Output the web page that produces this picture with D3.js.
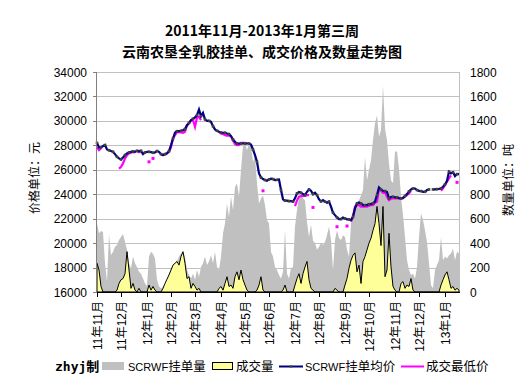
<!DOCTYPE html>
<html><head><meta charset="utf-8">
<script src="https://cdn.jsdelivr.net/npm/d3@7"></script>
<style>body{margin:0;background:#fff}svg{display:block}</style>
</head><body><svg id="c" width="532" height="390"></svg>
<script>
const titleLines = ["2011年11月-2013年1月第三周", "云南农垦全乳胶挂单、成交价格及数量走势图"];
const monthLabels = ["11年11月","11年12月","12年1月","12年2月","12年3月","12年4月","12年5月","12年6月","12年7月","12年8月","12年9月","12年10月","12年11月","12年12月","13年1月"];
const monthStartIndex = [0,12,25,37,49,62,74,86,99,111,124,136,149,161,174];
const priceTicks = [16000,18000,20000,22000,24000,26000,28000,30000,32000,34000];
const volumeTicks = [0,200,400,600,800,1000,1200,1400,1600,1800];
const seriesNames = ["SCRWF挂单量","成交量","SCRWF挂单均价","成交最低价"];

// SCRWF挂单量 (吨)
const orderVolume = [560,480,500,490,235,85,470,300,330,370,385,425,450,475,410,345,235,195,290,235,205,165,150,110,70,50,290,330,310,275,100,45,30,40,55,100,
150,180,205,235,250,290,315,330,290,180,140,110,150,100,180,125,205,235,290,220,250,300,235,330,205,180,290,480,560,725,615,780,670,860,890,780,
1000,1200,1230,1160,1215,1190,1065,1105,890,725,765,790,710,590,560,330,290,205,180,140,110,165,510,150,110,195,205,535,670,780,790,765,750,575,450,550,420,
400,345,370,400,385,410,465,535,425,180,425,505,440,425,465,450,345,290,560,645,685,725,750,790,835,1105,915,1000,1080,1245,1380,1445,1270,1325,1690,1340,1240,
1050,915,890,1150,1150,1010,780,630,450,260,180,140,150,110,205,450,645,590,505,410,235,55,30,180,220,260,450,260,290,275,300,315,355,260,330,315];

// 成交量 (吨)
const dealVolume = [235,180,45,0,0,0,0,0,0,0,15,70,100,110,150,330,180,30,70,15,0,30,0,0,0,0,57,15,45,15,0,0,0,30,70,105,
140,180,220,235,250,220,290,330,235,110,125,30,70,45,15,30,0,0,0,0,0,0,0,0,0,30,45,15,70,125,45,57,30,125,165,100,
180,100,57,15,0,0,0,0,15,57,125,15,0,0,0,0,0,0,0,0,0,15,57,0,0,0,0,57,110,150,70,150,205,250,100,30,15,
0,0,0,0,0,0,0,0,0,0,30,15,0,0,0,57,110,195,260,300,320,165,220,70,250,290,345,400,440,505,560,700,560,380,700,125,180,
480,205,45,15,0,0,70,85,30,57,45,110,15,0,0,0,0,0,0,0,0,0,0,0,0,0,57,100,140,165,100,30,45,15,30,15];

// SCRWF挂单均价 (元)
const orderPrice = [28200,27830,27830,27940,28020,27660,27600,27530,27470,27280,27060,26930,26850,27010,27200,27340,27420,27470,27500,27470,27550,27530,27550,27280,27420,27470,27470,27450,27390,27420,27530,27470,27280,27200,27280,27340,
27530,28020,28560,29030,29160,29160,29190,29240,29330,29650,29840,30060,30170,30280,30470,30930,30390,30660,30120,30000,30000,29920,29570,29300,29190,29110,29050,29030,29030,28970,28920,28750,28480,28290,28150,28150,
28150,28150,28150,28150,28150,28070,27660,27200,26650,25700,25370,25240,25160,25100,25210,25270,25240,25160,25180,25210,24340,23580,23470,23470,23440,23440,23390,23660,24070,24180,24120,24010,23930,24200,24390,24280,24010,
24120,23930,23580,23410,23520,23390,23300,23390,22980,22490,22290,22100,21970,21970,22100,22020,21940,21940,21890,22160,22840,23250,23330,23250,23110,23110,23110,23190,23190,23250,23390,23930,24560,24390,24280,24260,24180,
23660,23770,23790,23740,23740,23680,23660,23680,23850,24010,24230,24390,24470,24470,24340,24280,24260,24200,24200,24340,24390,null,24390,24390,24420,24440,24470,24610,24800,25100,25840,25700,25790,25480,25650,25650];

// 成交最低价 (元)
const dealLowPrice = [27830,27600,27750,null,null,null,null,null,null,null,null,26080,26250,26520,26930,27200,27340,27390,27450,27430,null,27480,null,null,null,null,26650,null,26930,null,null,null,27230,27200,27250,27340,
27470,27830,28560,28830,29080,29080,29050,29030,29110,29650,29790,30000,30060,29520,30280,30330,30060,null,null,null,null,null,null,null,null,29110,28970,28920,28830,28800,28800,28750,28370,28100,28020,28040,
28200,28200,28200,28150,null,null,null,null,null,null,null,24280,null,null,null,null,null,null,null,null,null,null,null,null,null,null,null,23030,23500,23800,23850,23850,23880,23930,23930,null,22920,
null,null,null,null,null,null,null,null,null,null,null,21340,null,null,null,null,21400,null,21750,22160,22980,23110,23110,22980,22980,22980,22980,23060,23110,23110,23300,23380,24420,24280,24120,24170,23800,
23520,23630,23660,23660,23660,23660,23660,23720,23800,23930,24070,24280,null,null,null,null,null,null,null,null,null,null,null,null,null,null,24280,24470,24750,25020,25290,25540,null,null,24970,null];

const N = orderVolume.length;
const svg = d3.select("#c");
const L = 97, R = 459, T = 72, B = 292;
const x = d3.scaleLinear().domain([0, N-1]).range([L, R]);
const yP = d3.scaleLinear().domain([16000, 34000]).range([B, T]);
const yV = d3.scaleLinear().domain([0, 1800]).range([B, T]);
const cjk = "'Liberation Sans','Noto Sans CJK SC',sans-serif";

// title
svg.selectAll("text.title").data(titleLines).join("text").attr("class","title")
  .attr("x", 262).attr("y", (d,i)=> 36 + i*21)
  .attr("text-anchor","middle").attr("font-family","'Noto Sans CJK SC',sans-serif")
  .attr("font-weight","bold").attr("font-size", 14).attr("fill","#000").text(d=>d);

// grid
svg.append("g").selectAll("line").data(priceTicks).join("line")
  .attr("x1", L).attr("x2", R).attr("y1", d=>Math.round(yP(d))+0.5).attr("y2", d=>Math.round(yP(d))+0.5)
  .attr("stroke","#c0c0c0").attr("stroke-width",1);
svg.append("line").attr("x1",R+0.5).attr("x2",R+0.5).attr("y1",T).attr("y2",B).attr("stroke","#c0c0c0");

const idx = d3.range(N);
// gray area
svg.append("path").datum(idx)
  .attr("d", d3.area().x(i=>x(i)).y0(B).y1(i=>yV(orderVolume[i])))
  .attr("fill","#c0c0c0");
// yellow area
svg.append("path").datum(idx)
  .attr("d", d3.area().x(i=>x(i)).y0(B).y1(i=>yV(dealVolume[i])))
  .attr("fill","#ffff99").attr("stroke","#000").attr("stroke-width",1);

// magenta line
const magLine = d3.line().defined(i=>dealLowPrice[i]!=null).x(i=>x(i)).y(i=>yP(dealLowPrice[i]));
svg.append("path").datum(idx).attr("d", magLine).attr("fill","none").attr("stroke","#ff00ff").attr("stroke-width",2.2);
svg.append("g").selectAll("rect").data(idx.filter(i=>dealLowPrice[i]!=null && (i===0||dealLowPrice[i-1]==null) && (i===N-1||dealLowPrice[i+1]==null)))
  .join("rect").attr("x", i=>x(i)-1.5).attr("y", i=>yP(dealLowPrice[i])-1.5).attr("width",3).attr("height",3).attr("fill","#ff00ff");

// navy line + markers
const navLine = d3.line().defined(i=>orderPrice[i]!=null).x(i=>x(i)).y(i=>yP(orderPrice[i]));
svg.append("path").datum(idx).attr("d", navLine).attr("fill","none").attr("stroke","#000080").attr("stroke-width",2.2);
svg.append("g").selectAll("rect").data(idx.filter(i=>orderPrice[i]!=null && i%2===0))
  .join("rect").attr("x", i=>x(i)-1.3).attr("y", i=>yP(orderPrice[i])-1.3).attr("width",2.6).attr("height",2.6).attr("fill","#404040");

// axes lines
svg.append("line").attr("x1",L-0.5).attr("x2",L-0.5).attr("y1",T).attr("y2",B+0.5).attr("stroke","#808080");
svg.append("line").attr("x1",L-1).attr("x2",R+1).attr("y1",B+0.5).attr("y2",B+0.5).attr("stroke","#000");
svg.append("g").selectAll("line").data(priceTicks).join("line")
  .attr("x1",L-4).attr("x2",L).attr("y1",d=>Math.round(yP(d))+0.5).attr("y2",d=>Math.round(yP(d))+0.5).attr("stroke","#808080");
svg.append("g").selectAll("line").data(monthStartIndex).join("line")
  .attr("x1",i=>Math.round(x(i))+0.5).attr("x2",i=>Math.round(x(i))+0.5).attr("y1",B).attr("y2",B+5).attr("stroke","#000");

// left tick labels
svg.append("g").selectAll("text").data(priceTicks).join("text")
  .attr("x", 87).attr("y", d=>yP(d)+4.5).attr("text-anchor","end")
  .attr("font-family","'Liberation Sans',sans-serif").attr("font-size",12).text(d=>d);
// right tick labels
svg.append("g").selectAll("text").data(volumeTicks).join("text")
  .attr("x", 470).attr("y", d=>yV(d)+4.5).attr("text-anchor","start")
  .attr("font-family","'Liberation Sans',sans-serif").attr("font-size",12).text(d=>d);
// x labels
svg.append("g").selectAll("text").data(monthStartIndex).join("text")
  .attr("transform", (d,k)=>`translate(${Math.round(x(d))+5},301) rotate(-90)`)
  .attr("text-anchor","end").attr("font-family",cjk).attr("font-size",12)
  .text((d,k)=>monthLabels[k]);

// axis titles
svg.append("text").attr("transform","translate(39,178) rotate(-90)").attr("text-anchor","middle")
  .attr("font-family",cjk).attr("font-size",12).text("价格单位：元");
svg.append("text").attr("transform","translate(513,180) rotate(-90)").attr("text-anchor","middle")
  .attr("font-family",cjk).attr("font-size",12).text("数量单位：吨");

// legend
const ly = 366;
function legendText(xp, name){
  const t = svg.append("text").attr("x",xp).attr("y",ly+5).attr("font-family",cjk).attr("font-size",12.5);
  const m = name.match(/^([A-Za-z]*)(.*)$/);
  if (m[1]) t.append("tspan").attr("font-size",11).text(m[1]);
  t.append("tspan").text(m[2]);
}
svg.append("text").attr("x",55).attr("y",ly+5).attr("font-family","'DejaVu Sans Mono','Noto Sans CJK SC',monospace")
  .attr("font-weight","bold").attr("font-size",13).text("zhyj制");
svg.append("rect").attr("x",102).attr("y",ly-4).attr("width",22).attr("height",8).attr("fill","#c0c0c0");
legendText(128, seriesNames[0]);
svg.append("rect").attr("x",212.5).attr("y",ly-3.5).attr("width",20).attr("height",7).attr("fill","#ffff99").attr("stroke","#000");
legendText(236, seriesNames[1]);
svg.append("line").attr("x1",279).attr("x2",303).attr("y1",ly+0.5).attr("y2",ly+0.5).attr("stroke","#000080").attr("stroke-width",2);
svg.append("rect").attr("x",289.5).attr("y",ly-0.5).attr("width",3).attr("height",2).attr("fill","#404040");
legendText(305, seriesNames[2]);
svg.append("line").attr("x1",401).attr("x2",424).attr("y1",ly+0.5).attr("y2",ly+0.5).attr("stroke","#ff00ff").attr("stroke-width",2);
legendText(426, seriesNames[3]);
</script></body></html>
